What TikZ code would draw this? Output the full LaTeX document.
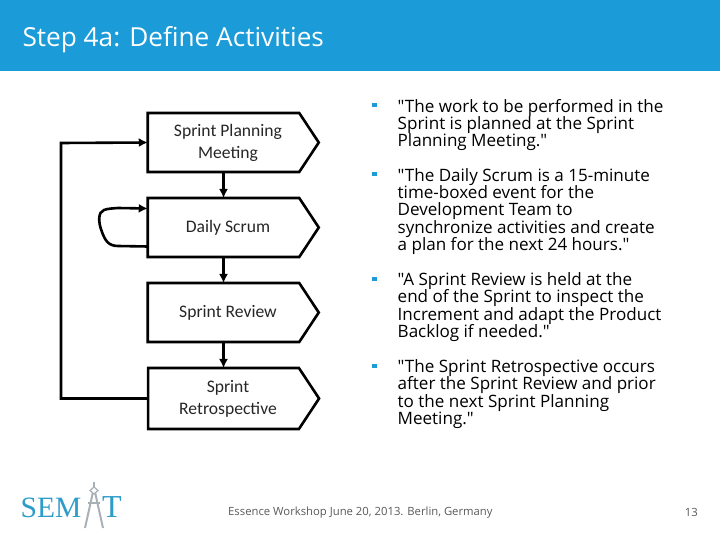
\documentclass[tikz,border=0pt]{standalone}
\usepackage{fontspec}
\setmainfont{Open Sans}[Ligatures=TeXOff]
\newfontfamily\logofont{Liberation Serif}
\newfontfamily\stagefont{Carlito}
\usetikzlibrary{arrows.meta, positioning, shapes.symbols}
\definecolor{headblue}{HTML}{1B9BD7}
\definecolor{logoblue}{HTML}{2E9CC9}
\definecolor{logogray}{HTML}{A9B0B5}
\newcommand{\stageline}[1]{\hspace*{9pt}\raisebox{-1.5pt}{#1}}

\begin{document}
\begin{tikzpicture}[x=1pt, y=-1pt,
    stagebox/.style={draw=black, line width=2.6pt, shape=signal, signal to=east, signal pointer angle=113,
        minimum width=171pt, minimum height=59pt, inner sep=0pt, outer sep=0pt, align=center, text=black!85,
        font=\stagefont\fontsize{17.6}{22}\selectfont},
    flowline/.style={draw=black, line width=2.6pt, -{Latex[length=9pt, width=9pt]}},
    quote/.style={anchor=north west, align=left, inner sep=0pt, font=\fontsize{17.05}{17.3}\selectfont},
    bulletmark/.style={fill=headblue, minimum size=4.5pt, inner sep=0pt}]
    \useasboundingbox (0,0) rectangle (720,540);
    \fill[headblue] (0,0) rectangle (720,71);
    \node[anchor=west, text=white, font=\fontsize{26.2}{28}\selectfont] (title) at (19,40) {Step 4a: Define Activities};

    % Stages
    \node[stagebox] (planning) at (223.5,142.5) {\stageline{Sprint Planning}\\\stageline{Meeting}};
    \node[stagebox, below=26pt of planning] (daily) {\stageline{Daily Scrum}};
    \node[stagebox, below=26pt of daily] (review) {\stageline{Sprint Review}};
    \node[stagebox, below=26pt of review, minimum height=61pt] (retro) {\stageline{Sprint}\\\stageline{Retrospective}};

    \draw[flowline] (planning) -- (daily);
    \draw[flowline] (daily) -- (review);
    \draw[flowline] (review) -- (retro);

    % Loops on the left
    \coordinate (backleft) at (61,143);
    \draw[flowline] (retro.west) -| (backleft) -- (planning.west);
    \draw[flowline] ([yshift=-19pt]daily.west) -- (118,246) .. controls (108,246) and (105,240) .. (102,232)
        .. controls (98,222) and (98,212) .. (104,210) .. controls (108,208.5) and (112,208.5) .. (118,208) -- ([yshift=19pt]daily.west);

    % Quotes
    \node[bulletmark] (b1) at (374.5,105) {};
    \node[quote] (q1) at (397.5,99) {"The work to be performed in the\\Sprint is planned at the Sprint\\Planning Meeting."};
    \node[bulletmark] (b2) at (374.5,174) {};
    \node[quote] (q2) at (397.5,168) {"The Daily Scrum is a 15-minute\\time-boxed event for the\\Development Team to\\synchronize activities and create\\a plan for the next 24 hours."};
    \node[bulletmark] (b3) at (374.5,279) {};
    \node[quote] (q3) at (397.5,272.5) {"A Sprint Review is held at the\\end of the Sprint to inspect the\\Increment and adapt the Product\\Backlog if needed."};
    \node[bulletmark] (b4) at (374.5,366) {};
    \node[quote] (q4) at (397.5,359.5) {"The Sprint Retrospective occurs\\after the Sprint Review and prior\\to the next Sprint Planning\\Meeting."};

    % Footer
    \node[text=black!65, font=\fontsize{11.3}{14}\selectfont, anchor=west, inner sep=0pt] (foot) at (228,512.5) {Essence Workshop June 20, 2013. Berlin, Germany};
    \node[text=black!65, font=\fontsize{11.3}{14}\selectfont, anchor=east, inner sep=0pt] (pagenum) at (698,512.5) {13};

    % Logo
    \node[anchor=base west, inner sep=0pt, text=logoblue, font=\logofont\fontsize{29.5}{30}\selectfont] (sem) at (20.5,517) {SEM};
    \node[anchor=base west, inner sep=0pt, text=logoblue, font=\logofont\fontsize{32}{30}\selectfont] (tee) at (102,517) {T};
    \draw[logogray, line width=2pt] (93,492) -- (85,528) (95,492) -- (103,528);
    \draw[logogray, line width=1.2pt] (88,503) -- (100,503);
    \draw[logogray, line width=1.6pt] (94,482) -- (94,487);
    \draw[logogray, line width=1.2pt, fill=white] (94,487) -- (98,490.5) -- (94,494) -- (90,490.5) -- cycle;
\end{tikzpicture}
\end{document}
